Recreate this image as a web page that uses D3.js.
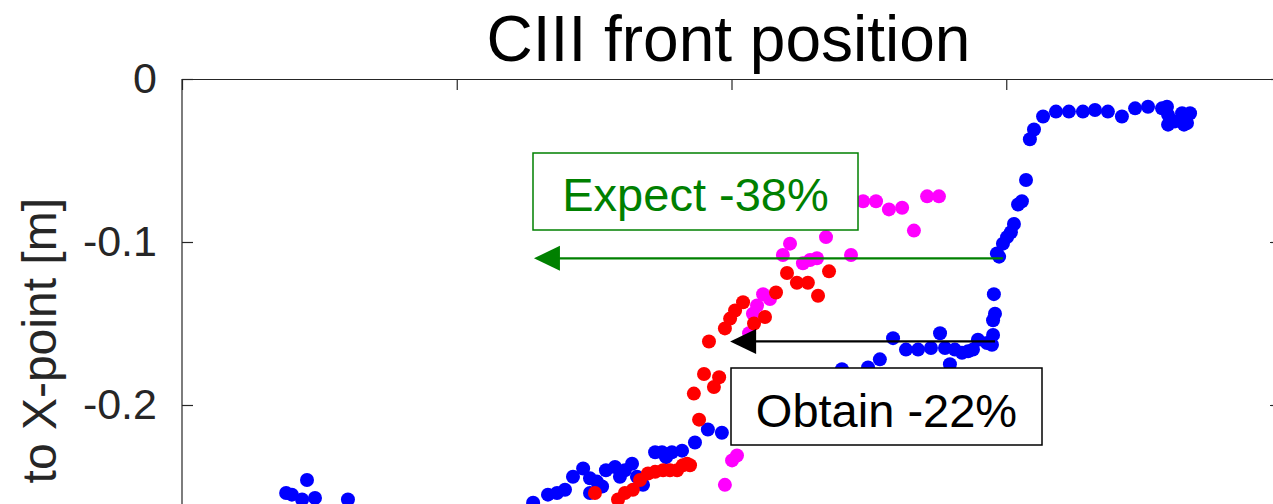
<!DOCTYPE html>
<html>
<head>
<meta charset="utf-8">
<script src="https://cdn.jsdelivr.net/npm/d3@7"></script>
<style>
  html, body { margin: 0; padding: 0; background: #fff; overflow: hidden; }
  svg { display: block; font-family: "Liberation Sans", Arial, Helvetica, sans-serif; }
</style>
</head>
<body>
<svg id="chart" width="1273" height="504"></svg>
<script>
// CIII front distance to the X-point versus time, three discharges

// Discharge 1 (blue)
const blueT = [0.379, 0.400, 0.455, 0.437, 0.484, 0.604,
  1.278, 1.332, 1.365, 1.394, 1.423, 1.460, 1.485, 1.510, 1.529, 1.485, 1.543, 1.576, 1.594, 1.612,
  1.638, 1.656, 1.678, 1.722, 1.747, 1.762, 1.783, 1.820, 1.867, 1.914, 1.965,
  2.402, 2.497, 2.540, 2.588, 2.635, 2.679, 2.726, 2.759, 2.777, 2.795, 2.813, 2.839, 2.861, 2.879,
  2.897, 2.930, 2.948, 2.952, 2.952, 2.959, 2.955, 2.966, 2.974, 2.988, 3.003, 3.017, 3.028, 3.043,
  3.057, 3.072, 3.086, 3.101, 3.134, 3.181, 3.228, 3.279, 3.323, 3.370, 3.421, 3.469, 3.516, 3.567,
  3.585, 3.589, 3.589, 3.614, 3.640, 3.647, 3.658, 3.669];
const blueZ = [-0.254, -0.255, -0.246, -0.258, -0.257, -0.258,
  -0.260, -0.255, -0.254, -0.252, -0.244, -0.239, -0.245, -0.247, -0.250, -0.254, -0.240, -0.238, -0.244, -0.240,
  -0.236, -0.244, -0.249, -0.229, -0.229, -0.232, -0.229, -0.228, -0.223, -0.215, -0.217,
  -0.178, -0.177, -0.172, -0.159, -0.166, -0.166, -0.165, -0.156, -0.165, -0.175, -0.166, -0.168, -0.167, -0.166,
  -0.160, -0.162, -0.163, -0.157, -0.148, -0.144, -0.132, -0.107, -0.109, -0.101, -0.097, -0.094, -0.089, -0.077,
  -0.075, -0.062, -0.037, -0.031, -0.023, -0.020, -0.020, -0.020, -0.019, -0.020, -0.023, -0.018, -0.017, -0.018,
  -0.017, -0.022, -0.028, -0.026, -0.021, -0.028, -0.027, -0.021];

// Discharge 2 (magenta)
const magentaT = [1.976, 2.002, 2.020, 2.064, 2.078, 2.093, 2.115, 2.140, 2.187, 2.213, 2.260, 2.286,
  2.311, 2.344, 2.435, 2.479, 2.526, 2.573, 2.621, 2.664, 2.712, 2.755];
const magentaZ = [-0.249, -0.234, -0.231, -0.156, -0.144, -0.139, -0.132, -0.135, -0.108, -0.101, -0.113, -0.111,
  -0.110, -0.097, -0.108, -0.075, -0.075, -0.080, -0.079, -0.093, -0.072, -0.072];

// Discharge 3 (red)
const redT = [1.503, 1.587, 1.612, 1.641, 1.667, 1.696, 1.722, 1.751, 1.776, 1.802, 1.823, 1.838, 1.849,
  1.882, 1.863, 1.936, 1.955, 1.900, 1.918, 1.976, 1.995, 2.013, 2.042, 2.082, 2.122, 2.162, 2.202,
  2.238, 2.278, 2.315, 2.355];
const redZ = [-0.254, -0.258, -0.254, -0.252, -0.246, -0.242, -0.241, -0.240, -0.240, -0.240, -0.237, -0.236, -0.237,
  -0.209, -0.193, -0.189, -0.183, -0.181, -0.161, -0.153, -0.147, -0.142, -0.137, -0.150, -0.146, -0.131, -0.119,
  -0.125, -0.125, -0.133, -0.118];

// Shift arrows: expected (green) and obtained (black)
const arrowFrom = [2.988, 2.959];
const arrowTo = [1.281, 1.995];
const arrowZ = [-0.110, -0.161];
const arrowColor = ["#008000", "#000000"];

// Axis ticks
const xTicks = [0, 1, 2, 3, 4];
const yTicks = [0, -0.1, -0.2];
const yTickLabels = ["0", "-0.1", "-0.2"];

const svg = d3.select("#chart");
const plotLeft = 182, plotRight = 1281, plotTop = 79;
const x = d3.scaleLinear().domain([0, 4]).range([plotLeft, plotRight]);
const y = d3.scaleLinear().domain([-0.4, 0]).range([plotTop + 4 * 163, plotTop]);
const axisColor = "#262626";

// Axes box with inward ticks
const gLeft = svg.append("g").attr("transform", `translate(${plotLeft},0)`)
  .call(d3.axisLeft(y).tickValues(yTicks).tickSizeInner(-11).tickSizeOuter(0).tickPadding(25)
    .tickFormat((d, i) => yTickLabels[i]));
const gRight = svg.append("g").attr("transform", `translate(${plotRight},0)`)
  .call(d3.axisRight(y).tickValues(yTicks).tickSizeInner(-11).tickSizeOuter(0).tickFormat(""));
const gTop = svg.append("g").attr("transform", `translate(0,${plotTop})`)
  .call(d3.axisTop(x).tickValues(xTicks).tickSizeInner(-11).tickSizeOuter(0).tickFormat(""));
// Extend the side axis lines across the whole lower part of the frame
gLeft.select(".domain").attr("d", `M0,${y(0)}V${y(-0.4)}`);
gRight.select(".domain").attr("d", `M0,${y(0)}V${y(-0.4)}`);
[gLeft, gRight, gTop].forEach(g => {
  g.selectAll("path, line").attr("stroke", axisColor).attr("stroke-width", 1.2);
});
gLeft.selectAll("text")
  .attr("fill", axisColor)
  .style("font-size", "43px")
  .style("font-family", "'Liberation Sans', Arial, Helvetica, sans-serif");

// Data points
const plotArea = svg.append("g");
function drawSeries(ts, zs, color) {
  plotArea.append("g").selectAll("circle")
    .data(ts.map((t, i) => [t, zs[i]]))
    .join("circle")
    .attr("cx", d => x(d[0]))
    .attr("cy", d => y(d[1]))
    .attr("r", 7)
    .attr("fill", color);
}
drawSeries(blueT, blueZ, "#0000ff");
drawSeries(magentaT, magentaZ, "#ff00ff");
drawSeries(redT, redZ, "#ff0000");

// Annotation text boxes
function textBox(x0, y0, w, h, label, color, baseline) {
  const g = svg.append("g");
  g.append("rect").attr("x", x0).attr("y", y0).attr("width", w).attr("height", h)
    .attr("fill", "#fff").attr("stroke", color).attr("stroke-width", 1.5);
  g.append("text").attr("x", x0 + w / 2).attr("y", baseline)
    .attr("text-anchor", "middle").attr("fill", color)
    .style("font-size", "47px").text(label);
}
textBox(533, 153, 325, 77, "Expect -38%", "#008000", 211);
textBox(731, 368, 311, 77, "Obtain -22%", "#000000", 427);

// Arrows
arrowFrom.forEach((t0, i) => {
  const yy = y(arrowZ[i]), xs = x(t0), xe = x(arrowTo[i]);
  const headLen = 26, headHalf = 12.5;
  svg.append("line").attr("x1", xs).attr("y1", yy).attr("x2", xe + headLen - 2).attr("y2", yy)
    .attr("stroke", arrowColor[i]).attr("stroke-width", 2.2);
  svg.append("path")
    .attr("d", `M${xe},${yy} L${xe + headLen},${yy - headHalf} L${xe + headLen},${yy + headHalf} Z`)
    .attr("fill", arrowColor[i]);
});

// Title and axis label
svg.append("text").attr("x", (plotLeft + plotRight) / 2 - 3).attr("y", 61)
  .attr("text-anchor", "middle").attr("fill", "#000")
  .style("font-size", "64px").text("CIII front position");
svg.append("text").attr("transform", "translate(56,198) rotate(-90)")
  .attr("text-anchor", "end").attr("fill", axisColor)
  .style("font-size", "48px").text("to X-point [m]");
</script>
</body>
</html>
